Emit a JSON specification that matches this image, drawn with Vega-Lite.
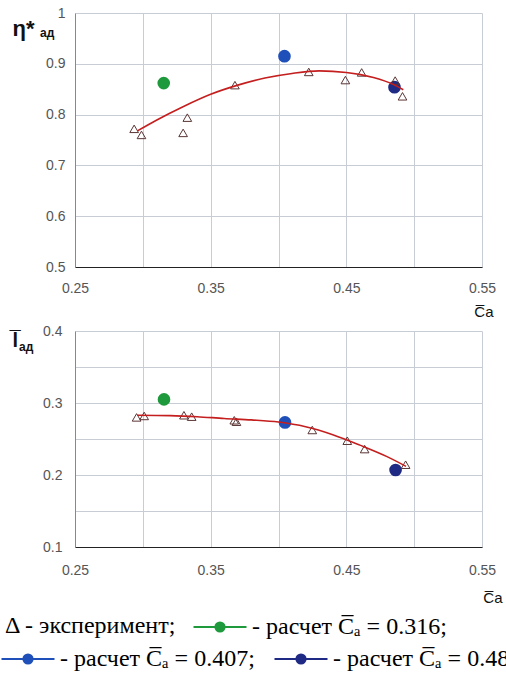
{
  "$schema": "https://vega.github.io/schema/vega-lite/v6.json",
  "background": "white",
  "padding": {"left": 0, "top": 6, "right": 0, "bottom": 0},
  "config": {
    "font": "Liberation Sans",
    "view": {"stroke": null},
    "axis": {
      "grid": true, "gridColor": "#c8cdd5", "gridWidth": 1,
      "ticks": false, "labelFont": "Liberation Sans", "labelFontSize": 14, "labelColor": "#555",
      "labelFlush": false, "labelOverlap": false,
      "titleFont": "Liberation Sans", "titleColor": "#111"
    },
    "legend": {
      "title": null, "orient": "none", "padding": 0,
      "labelFont": "Liberation Serif", "labelFontSize": 24, "labelColor": "#000", "labelLimit": 600
    }
  },
  "datasets": {
    "pts": [
      {"panel": "top", "series": "- эксперимент;", "ca": 0.2936, "value": 0.772},
      {"panel": "top", "series": "- эксперимент;", "ca": 0.299, "value": 0.760},
      {"panel": "top", "series": "- эксперимент;", "ca": 0.3297, "value": 0.764},
      {"panel": "top", "series": "- эксперимент;", "ca": 0.3328, "value": 0.794},
      {"panel": "top", "series": "- эксперимент;", "ca": 0.3679, "value": 0.858},
      {"panel": "top", "series": "- эксперимент;", "ca": 0.4223, "value": 0.884},
      {"panel": "top", "series": "- эксперимент;", "ca": 0.4493, "value": 0.868},
      {"panel": "top", "series": "- эксперимент;", "ca": 0.4613, "value": 0.883},
      {"panel": "top", "series": "- эксперимент;", "ca": 0.486, "value": 0.867},
      {"panel": "top", "series": "- эксперимент;", "ca": 0.4914, "value": 0.836},
      {"panel": "top", "series": "- расчет C\u0305\u2090 = 0.316;", "ca": 0.3154, "value": 0.862},
      {"panel": "top", "series": "- расчет C\u0305\u2090 = 0.407;", "ca": 0.4044, "value": 0.915},
      {"panel": "top", "series": "- расчет C\u0305\u2090 = 0.488;", "ca": 0.4855, "value": 0.854},
      {"panel": "bottom", "series": "- эксперимент;", "ca": 0.2954, "value": 0.280},
      {"panel": "bottom", "series": "- эксперимент;", "ca": 0.301, "value": 0.282},
      {"panel": "bottom", "series": "- эксперимент;", "ca": 0.3303, "value": 0.283},
      {"panel": "bottom", "series": "- эксперимент;", "ca": 0.336, "value": 0.281},
      {"panel": "bottom", "series": "- эксперимент;", "ca": 0.3674, "value": 0.276},
      {"panel": "bottom", "series": "- эксперимент;", "ca": 0.369, "value": 0.274},
      {"panel": "bottom", "series": "- эксперимент;", "ca": 0.4249, "value": 0.2625},
      {"panel": "bottom", "series": "- эксперимент;", "ca": 0.4507, "value": 0.2476},
      {"panel": "bottom", "series": "- эксперимент;", "ca": 0.4635, "value": 0.236},
      {"panel": "bottom", "series": "- эксперимент;", "ca": 0.4937, "value": 0.2143},
      {"panel": "bottom", "series": "- расчет C\u0305\u2090 = 0.316;", "ca": 0.3156, "value": 0.305},
      {"panel": "bottom", "series": "- расчет C\u0305\u2090 = 0.407;", "ca": 0.4048, "value": 0.273},
      {"panel": "bottom", "series": "- расчет C\u0305\u2090 = 0.488;", "ca": 0.4863, "value": 0.207}
    ],
    "fit": [
      {"panel": "top", "ca": 0.296, "value": 0.768},
      {"panel": "top", "ca": 0.31, "value": 0.789},
      {"panel": "top", "ca": 0.33, "value": 0.816},
      {"panel": "top", "ca": 0.35, "value": 0.840},
      {"panel": "top", "ca": 0.37, "value": 0.858},
      {"panel": "top", "ca": 0.39, "value": 0.872},
      {"panel": "top", "ca": 0.41, "value": 0.881},
      {"panel": "top", "ca": 0.43, "value": 0.886},
      {"panel": "top", "ca": 0.45, "value": 0.883},
      {"panel": "top", "ca": 0.47, "value": 0.873},
      {"panel": "top", "ca": 0.485, "value": 0.859},
      {"panel": "top", "ca": 0.492, "value": 0.849},
      {"panel": "bottom", "ca": 0.296, "value": 0.283},
      {"panel": "bottom", "ca": 0.32, "value": 0.2825},
      {"panel": "bottom", "ca": 0.34, "value": 0.281},
      {"panel": "bottom", "ca": 0.36, "value": 0.2785},
      {"panel": "bottom", "ca": 0.38, "value": 0.2765},
      {"panel": "bottom", "ca": 0.40, "value": 0.2735},
      {"panel": "bottom", "ca": 0.42, "value": 0.267},
      {"panel": "bottom", "ca": 0.44, "value": 0.256},
      {"panel": "bottom", "ca": 0.46, "value": 0.2415},
      {"panel": "bottom", "ca": 0.48, "value": 0.2255},
      {"panel": "bottom", "ca": 0.494, "value": 0.212}
    ]
  },
  "bounds": "flush",
  "spacing": 64,
  "vconcat": [
    {
      "width": 407,
      "height": 254,
      "title": {"text": "ад", "anchor": "start", "frame": "group", "fontSize": 12, "fontWeight": "bold", "font": "Liberation Sans", "color": "#111", "offset": 0, "baseline": "alphabetic", "dx": -35, "dy": 43},
      "encoding": {
        "x": {"field": "ca", "type": "quantitative",
          "scale": {"domain": [0.25, 0.55], "nice": false, "zero": false},
          "axis": {"values": [0.25, 0.3, 0.35, 0.4, 0.45, 0.5, 0.55],
            "labelExpr": "round(datum.value*20)%2==1 ? format(datum.value,'.2f') : ''",
            "labelPadding": 14, "domainColor": "#222",
            "title": "C\u0305a", "titleX": 418, "titleY": 49, "titleAlign": "right", "titleBaseline": "alphabetic", "titleFontSize": 15, "titleFontWeight": "normal"}},
        "y": {"field": "value", "type": "quantitative",
          "scale": {"domain": [0.5, 1], "nice": false, "zero": false},
          "axis": {"values": [0.5, 0.6, 0.7, 0.8, 0.9, 1],
            "labelExpr": "datum.value==1 ? '1' : format(datum.value,'.1f')",
            "labelPadding": 10, "domainColor": "#888",
            "title": "\u03b7*", "titleAngle": 0, "titleAlign": "left", "titleBaseline": "alphabetic", "titleX": -63, "titleY": 22, "titleFontSize": 22, "titleFontWeight": "bold"}}
      },
      "layer": [
        {
          "data": {"name": "pts"},
          "transform": [{"filter": "datum.panel == 'top' && datum.series != '- эксперимент;'"}],
          "mark": {"type": "point", "shape": "circle", "filled": true, "size": 160, "opacity": 1},
          "encoding": {"fill": {"field": "series", "type": "nominal", "legend": null,
            "scale": {"domain": ["- расчет C\u0305\u2090 = 0.316;", "- расчет C\u0305\u2090 = 0.407;", "- расчет C\u0305\u2090 = 0.488;"], "range": ["#1e9a3c", "#1f4fb8", "#1f2a84"]}}}
        },
        {
          "data": {"name": "pts"},
          "transform": [{"filter": "datum.panel == 'top' && datum.series == '- эксперимент;'"}],
          "mark": {"type": "point", "shape": "triangle-up", "filled": false, "size": 75, "strokeWidth": 1, "opacity": 1, "color": "#5a3535"}
        },
        {
          "data": {"name": "fit"},
          "transform": [{"filter": "datum.panel == 'top'"}],
          "mark": {"type": "line", "color": "#c41e1e", "strokeWidth": 1.6, "interpolate": "monotone"},
          "encoding": {}
        },
        {
          "data": {"name": "pts"},
          "transform": [{"filter": "datum.panel == 'top' && datum.series == '- эксперимент;'"}],
          "mark": {"type": "point", "filled": false, "opacity": 0},
          "encoding": {"shape": {"field": "series", "type": "nominal",
            "scale": {"domain": ["- эксперимент;"], "range": ["circle"]},
            "legend": {"legendX": -72, "legendY": 601, "labelExpr": "'\u0394 - эксперимент;'", "symbolOpacity": 0, "symbolSize": 1, "symbolStrokeWidth": 0, "labelOffset": -22}}}
        },
        {
          "data": {"name": "pts"},
          "transform": [{"filter": "datum.panel == 'top' && datum.series == '- расчет C\u0305\u2090 = 0.316;'"}],
          "mark": {"type": "point", "filled": false, "opacity": 0},
          "encoding": {"stroke": {"field": "series", "type": "nominal",
            "scale": {"domain": ["- расчет C\u0305\u2090 = 0.316;"], "range": ["#1e9a3c"]},
            "legend": {"legendX": 117, "legendY": 586, "labelOffset": 4, "symbolOpacity": 1, "symbolFillColor": "transparent", "symbolStrokeWidth": 2.2, "symbolSize": 2809,
              "symbolType": "M-1,0L-0.2,0M0.2,0L1,0M-0.17,0A0.17,0.17,0,1,1,0.17,0A0.17,0.17,0,1,1,-0.17,0ZM-0.1,0A0.1,0.1,0,1,1,0.1,0A0.1,0.1,0,1,1,-0.1,0ZM-0.04,0A0.04,0.04,0,1,1,0.04,0A0.04,0.04,0,1,1,-0.04,0Z"}}}
        },
        {
          "data": {"name": "pts"},
          "transform": [{"filter": "datum.panel == 'top' && (datum.series == '- расчет C\u0305\u2090 = 0.407;' || datum.series == '- расчет C\u0305\u2090 = 0.488;')"}],
          "mark": {"type": "point", "filled": false, "opacity": 0},
          "encoding": {"color": {"field": "series", "type": "nominal",
            "scale": {"domain": ["- расчет C\u0305\u2090 = 0.407;", "- расчет C\u0305\u2090 = 0.488;"], "range": ["#1f4fb8", "#1f2a84"]},
            "legend": {"legendX": -75, "legendY": 618, "labelOffset": 4, "columns": 2, "direction": "horizontal", "gridAlign": "none", "columnPadding": 15, "symbolOpacity": 1, "symbolFillColor": "transparent", "symbolStrokeWidth": 2.2, "symbolSize": 2809,
              "symbolType": "M-1,0L-0.2,0M0.2,0L1,0M-0.17,0A0.17,0.17,0,1,1,0.17,0A0.17,0.17,0,1,1,-0.17,0ZM-0.1,0A0.1,0.1,0,1,1,0.1,0A0.1,0.1,0,1,1,-0.1,0ZM-0.04,0A0.04,0.04,0,1,1,0.04,0A0.04,0.04,0,1,1,-0.04,0Z"}}}
        }
      ]
    },
    {
      "width": 407,
      "height": 216,
      "title": {"text": "ад", "anchor": "start", "frame": "group", "fontSize": 12, "fontWeight": "bold", "font": "Liberation Sans", "color": "#111", "offset": 0, "baseline": "alphabetic", "dx": -56, "dy": 39},
      "encoding": {
        "x": {"field": "ca", "type": "quantitative",
          "scale": {"domain": [0.25, 0.55], "nice": false, "zero": false},
          "axis": {"values": [0.25, 0.3, 0.35, 0.4, 0.45, 0.5, 0.55],
            "labelExpr": "round(datum.value*20)%2==1 ? format(datum.value,'.2f') : ''",
            "labelPadding": 16, "domainColor": "#222",
            "title": "C\u0305a", "titleX": 427, "titleY": 55, "titleAlign": "right", "titleBaseline": "alphabetic", "titleFontSize": 15, "titleFontWeight": "normal"}},
        "y": {"field": "value", "type": "quantitative",
          "scale": {"domain": [0.1, 0.4], "nice": false, "zero": false},
          "axis": {"values": [0.1, 0.15, 0.2, 0.25, 0.3, 0.35, 0.4],
            "labelExpr": "round(datum.value*20)%2==0 ? format(datum.value,'.1f') : ''",
            "labelPadding": 13, "domainColor": "#888",
            "title": "l\u0305", "titleAngle": 0, "titleAlign": "left", "titleBaseline": "alphabetic", "titleX": -63, "titleY": 15, "titleFontSize": 20, "titleFontWeight": "bold"}}
      },
      "layer": [
        {
          "data": {"name": "pts"},
          "transform": [{"filter": "datum.panel == 'bottom' && datum.series != '- эксперимент;'"}],
          "mark": {"type": "point", "shape": "circle", "filled": true, "size": 160, "opacity": 1},
          "encoding": {"fill": {"field": "series", "type": "nominal", "legend": null,
            "scale": {"domain": ["- расчет C\u0305\u2090 = 0.316;", "- расчет C\u0305\u2090 = 0.407;", "- расчет C\u0305\u2090 = 0.488;"], "range": ["#1e9a3c", "#1f4fb8", "#1f2a84"]}}}
        },
        {
          "data": {"name": "pts"},
          "transform": [{"filter": "datum.panel == 'bottom' && datum.series == '- эксперимент;'"}],
          "mark": {"type": "point", "shape": "triangle-up", "filled": false, "size": 75, "strokeWidth": 1, "opacity": 1, "color": "#5a3535"}
        },
        {
          "data": {"name": "fit"},
          "transform": [{"filter": "datum.panel == 'bottom'"}],
          "mark": {"type": "line", "color": "#c41e1e", "strokeWidth": 1.6, "interpolate": "monotone"},
          "encoding": {}
        }
      ]
    }
  ]
}
